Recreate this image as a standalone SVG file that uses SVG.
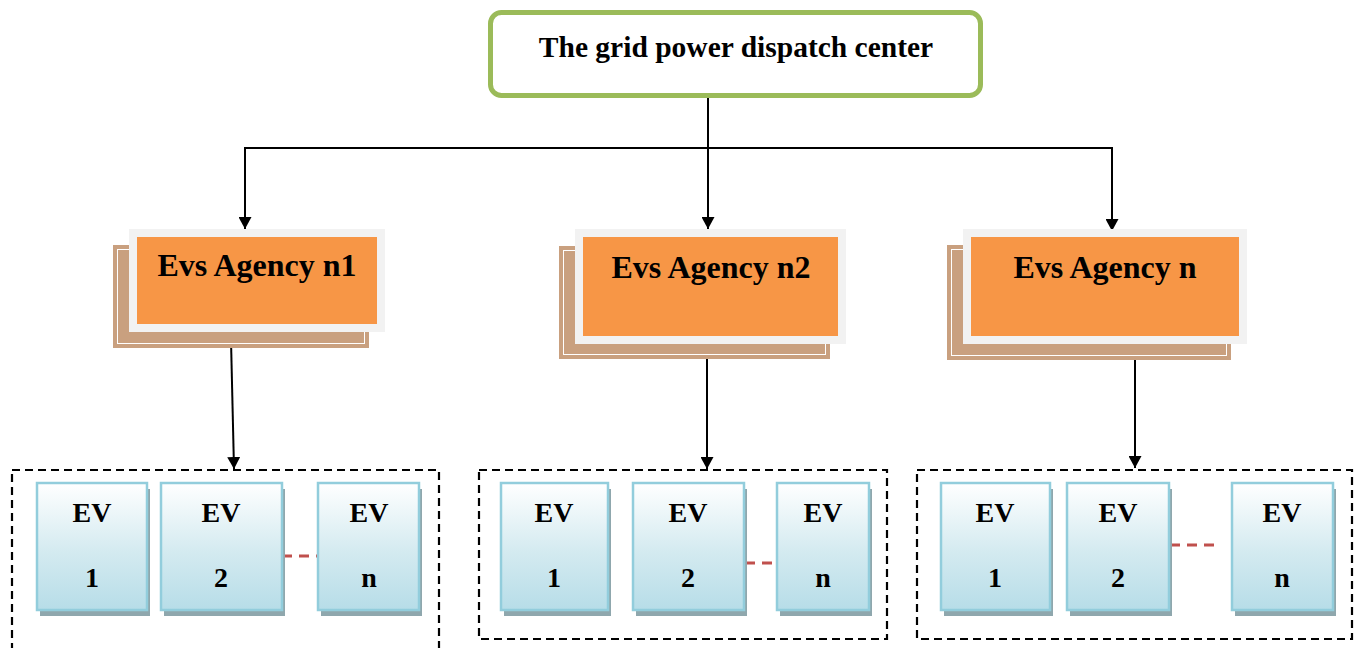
<svg xmlns="http://www.w3.org/2000/svg" width="1356" height="648" viewBox="0 0 1356 648" font-family="'Liberation Serif', 'DejaVu Serif', serif">
<defs>
<marker id="ah" markerUnits="userSpaceOnUse" markerWidth="12" markerHeight="13" refX="12" refY="6.5" orient="auto">
<path d="M0,0 L12,6.5 L0,13 z" fill="#000"/>
</marker>
<linearGradient id="evg" x1="0" y1="0" x2="0" y2="1">
<stop offset="0" stop-color="#FFFFFF"/>
<stop offset="0.55" stop-color="#D3EAF0"/>
<stop offset="1" stop-color="#B7DDE8"/>
</linearGradient>
</defs>
<style>
text{font-family:'Liberation Serif','DejaVu Serif',serif;font-weight:bold;fill:#000;text-anchor:middle}
.title{font-size:29.5px}
.ag{font-size:32px}
.ev{font-size:28px}
.back{fill:#C9A07F}
.backin{fill:none;stroke:#FFFFFF;stroke-width:1}
.front{fill:#F2F2F2}
.orange{fill:#F79646}
.evbox{fill:url(#evg);stroke:#92CDDC;stroke-width:2.5}
.evsh{fill:#8FA7AD}
.grp{fill:none;stroke:#000;stroke-width:2.2;stroke-dasharray:8,5}
.conn{fill:none;stroke:#000;stroke-width:2}
.red{fill:none;stroke:#C0504D;stroke-width:3;stroke-dasharray:10,7}
</style>

<g id="connectors">
<line class="conn" x1="708" y1="97" x2="708" y2="229" marker-end="url(#ah)"/>
<line class="conn" x1="245" y1="148" x2="1112" y2="148"/>
<line class="conn" x1="245" y1="147" x2="245" y2="229" marker-end="url(#ah)"/>
<line class="conn" x1="1112" y1="147" x2="1112" y2="231" marker-end="url(#ah)"/>
<line class="conn" x1="231" y1="340" x2="234" y2="469" marker-end="url(#ah)"/>
<line class="conn" x1="707" y1="340" x2="707" y2="469" marker-end="url(#ah)"/>
<line class="conn" x1="1135" y1="344" x2="1135" y2="468" marker-end="url(#ah)"/>
<line class="red" x1="282" y1="556" x2="318" y2="556"/>
<line class="red" x1="745" y1="563" x2="777" y2="563"/>
<line class="red" x1="1170" y1="545" x2="1216" y2="545"/>
</g>

<g id="dispatch-center">
<rect x="490.5" y="12.5" width="490" height="83" rx="11" ry="11" fill="#FFFFFF" stroke="#9BBB59" stroke-width="5"/>
<text class="title" x="736" y="57">The grid power dispatch center</text>
</g>

<g id="agency-n1">
<rect class="back" x="113" y="245" width="256" height="103"/>
<rect class="backin" x="117.5" y="249.5" width="247" height="94"/>
<rect class="front" x="129" y="229" width="256" height="103"/>
<rect class="orange" x="137" y="237" width="240" height="87"/>
<text class="ag" x="257" y="276">Evs Agency n1</text>
</g>

<g id="agency-n2">
<rect class="back" x="559" y="246" width="271" height="113"/>
<rect class="backin" x="563.5" y="250.5" width="262" height="104"/>
<rect class="front" x="575" y="229" width="271" height="115"/>
<rect class="orange" x="583" y="237" width="255" height="99"/>
<text class="ag" x="711" y="278">Evs Agency n2</text>
</g>

<g id="agency-n">
<rect class="back" x="947" y="245" width="284" height="115"/>
<rect class="backin" x="951.5" y="249.5" width="275" height="106"/>
<rect class="front" x="963" y="229" width="284" height="115"/>
<rect class="orange" x="971" y="237" width="268" height="99"/>
<text class="ag" x="1105" y="278">Evs Agency n</text>
</g>

<g id="ev-group-1">
<rect class="grp" x="12" y="470" width="427" height="190"/>
<g id="g1-ev1"><rect class="evsh" x="40" y="489" width="110" height="127"/><rect class="evbox" x="37" y="483" width="110" height="127"/><text class="ev" x="92" y="522">EV</text><text class="ev" x="92" y="587">1</text></g>
<g id="g1-ev2"><rect class="evsh" x="164" y="489" width="121" height="127"/><rect class="evbox" x="161" y="483" width="121" height="127"/><text class="ev" x="221" y="522">EV</text><text class="ev" x="221" y="587">2</text></g>
<g id="g1-evn"><rect class="evsh" x="321" y="489" width="101" height="127"/><rect class="evbox" x="318" y="483" width="101" height="127"/><text class="ev" x="369" y="522">EV</text><text class="ev" x="369" y="587">n</text></g>
</g>

<g id="ev-group-2">
<rect class="grp" x="479" y="470" width="408" height="169"/>
<g id="g2-ev1"><rect class="evsh" x="504" y="489" width="107" height="127"/><rect class="evbox" x="501" y="483" width="107" height="127"/><text class="ev" x="554" y="522">EV</text><text class="ev" x="554" y="587">1</text></g>
<g id="g2-ev2"><rect class="evsh" x="636" y="489" width="111" height="127"/><rect class="evbox" x="633" y="483" width="111" height="127"/><text class="ev" x="688" y="522">EV</text><text class="ev" x="688" y="587">2</text></g>
<g id="g2-evn"><rect class="evsh" x="780" y="489" width="92" height="127"/><rect class="evbox" x="777" y="483" width="92" height="127"/><text class="ev" x="823" y="522">EV</text><text class="ev" x="823" y="587">n</text></g>
</g>

<g id="ev-group-3">
<rect class="grp" x="917" y="470" width="435" height="169"/>
<g id="g3-ev1"><rect class="evsh" x="944" y="489" width="109" height="127"/><rect class="evbox" x="941" y="483" width="109" height="127"/><text class="ev" x="995" y="522">EV</text><text class="ev" x="995" y="587">1</text></g>
<g id="g3-ev2"><rect class="evsh" x="1070" y="489" width="102" height="127"/><rect class="evbox" x="1067" y="483" width="102" height="127"/><text class="ev" x="1118" y="522">EV</text><text class="ev" x="1118" y="587">2</text></g>
<g id="g3-evn"><rect class="evsh" x="1235" y="489" width="101" height="127"/><rect class="evbox" x="1232" y="483" width="101" height="127"/><text class="ev" x="1282" y="522">EV</text><text class="ev" x="1282" y="587">n</text></g>
</g>
</svg>
